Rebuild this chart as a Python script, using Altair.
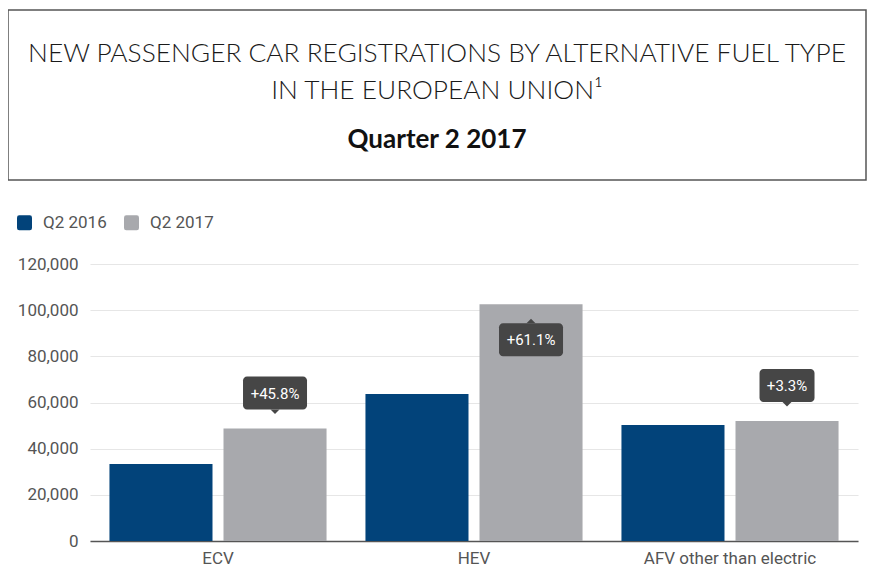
import altair as alt
import pandas as pd

categories = ["ECV", "HEV", "AFV other than electric"]
series = ["Q2 2016", "Q2 2017"]
q2_2016 = [33400, 63700, 50300]
q2_2017 = [48700, 102600, 52000]
changes = ["+45.8%", "+61.1%", "+3.3%"]
placement = ["above", "inside", "above"]
title_lines = ["NEW PASSENGER CAR REGISTRATIONS BY ALTERNATIVE FUEL TYPE",
               "IN THE EUROPEAN UNION\u00b9"]
subtitle = "Quarter 2 2017"
y_ticks = [0, 20000, 40000, 60000, 80000, 100000, 120000]

rows = []
for c, a, b in zip(categories, q2_2016, q2_2017):
    rows.append({"category": c, "series": series[0], "value": a})
    rows.append({"category": c, "series": series[1], "value": b})
bars_df = pd.DataFrame(rows)

call_df = pd.DataFrame({
    "category": categories,
    "series": [series[1]] * len(categories),
    "value": q2_2017,
    "label": changes,
    "placement": placement,
})

NAVY = "#02437a"
GREY = "#a8a9ad"
CALL = "#464646"
TXT = "#555555"
W, H = 768, 277
ROUND_SQ = ("M-0.7,-1H0.7Q1,-1 1,-0.7V0.7Q1,1 0.7,1H-0.7Q-1,1 -1,0.7"
            "V-0.7Q-1,-1 -0.7,-1Z")

xs = alt.Scale(domain=categories, paddingInner=0.152, paddingOuter=0.076)
xos = alt.Scale(domain=series, paddingInner=0.0965, paddingOuter=0)
ys = alt.Scale(domain=[0, 120000], nice=False)

X = alt.X("category:N", scale=xs, sort=categories,
          axis=alt.Axis(title=None, labelAngle=0, ticks=False, domainColor="#555555",
                        domainWidth=1.5, labelFontSize=17, labelPadding=9,
                        labelColor=TXT, labelFont="Roboto", grid=False))
XO = alt.XOffset("series:N", scale=xos, sort=series)
Y = alt.Y("value:Q", scale=ys,
          axis=alt.Axis(title=None, values=y_ticks, format=",.0f", ticks=False, domain=False,
                        labelPadding=12, labelFontSize=17, labelColor=TXT,
                        labelFont="Roboto", gridColor="#e6e6e6", gridWidth=1.2))

bars = alt.Chart(bars_df).mark_bar().encode(
    x=X, xOffset=XO, y=Y,
    color=alt.Color("series:N", sort=series,
                    scale=alt.Scale(domain=series, range=[NAVY, GREY]),
                    legend=alt.Legend(title=None, orient="none", legendX=-74, legendY=-50,
                                      direction="horizontal", symbolType=ROUND_SQ,
                                      symbolSize=225, symbolStrokeWidth=0,
                                      labelFontSize=17, labelColor=TXT, labelFont="Roboto",
                                      labelOffset=10, columnPadding=16)),
)

call_base = alt.Chart(call_df).transform_calculate(
    w="length(datum.label) * 9 + 10"
)

def callout(where, box_off, box_off2, ptr_off, ptr_shape, txt_off):
    base = call_base.transform_filter(alt.datum.placement == where)
    box = base.mark_bar(color=CALL, cornerRadius=4, yOffset=box_off, y2Offset=box_off2).encode(
        x=X, xOffset=XO, y=Y, y2=alt.Y2("value:Q"),
        size=alt.Size("w:Q", scale=None),
    )
    ptr = base.mark_point(shape=ptr_shape, filled=True, size=81, color=CALL, opacity=1,
                          strokeWidth=0, yOffset=ptr_off).encode(
        x=X, xOffset=XO, y=Y,
    )
    txt = base.mark_text(color="white", fontSize=15, font="Roboto", baseline="middle",
                         yOffset=txt_off).encode(
        x=X, xOffset=XO, y=Y, text="label:N",
    )
    return [box, ptr, txt]

above = callout("above", -52, -19, -19, "M-1,0L1,0L0,1Z", -35)
inside = callout("inside", 19, 52, 19, "M-1,0L1,0L0,-1Z", 36)

frame = alt.Chart(pd.DataFrame({"k": [0]})).mark_rect(
    filled=False, stroke="#555555", strokeWidth=1.5
).encode(x=alt.value(-82), x2=alt.value(776), y=alt.value(-254), y2=alt.value(-84))

t1 = alt.Chart(pd.DataFrame({"t": [title_lines[0]]})).mark_text(
    font="Lato", fontWeight=300, fontSize=26.3, color="#1a1a1a", baseline="middle", align="center"
).encode(x=alt.value(347), y=alt.value(-210), text="t:N")
t2 = alt.Chart(pd.DataFrame({"t": [title_lines[1]]})).mark_text(
    font="Lato", fontWeight=300, fontSize=26.3, color="#1a1a1a", baseline="middle", align="center"
).encode(x=alt.value(347), y=alt.value(-173), text="t:N")
t3 = alt.Chart(pd.DataFrame({"t": [subtitle]})).mark_text(
    font="Lato", fontWeight="bold", fontSize=26, color="#111111", baseline="middle", align="center"
).encode(x=alt.value(347), y=alt.value(-124), text="t:N")

chart = alt.layer(bars, *above, *inside, frame, t1, t2, t3).properties(
    width=W, height=H,
    background="white",
    autosize=alt.AutoSizeParams(type="none"),
    padding={"left": 82, "top": 256, "right": 11, "bottom": 32},
).configure_view(strokeWidth=0, stroke="transparent")

chart.save("out.html", embed_options={"renderer": "svg", "actions": False})
